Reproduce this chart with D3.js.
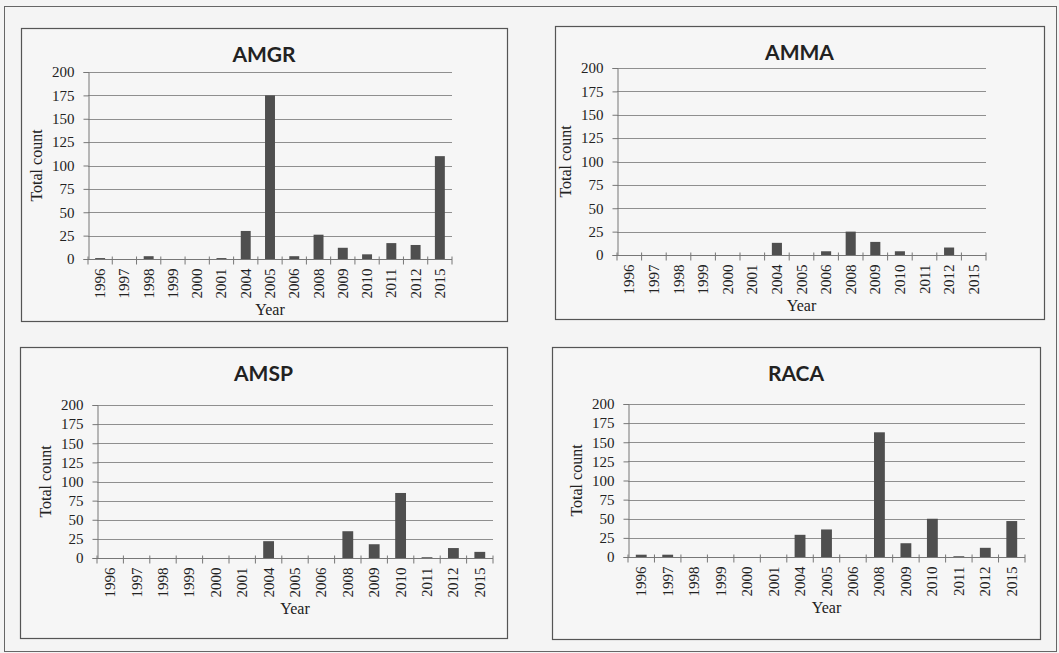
<!DOCTYPE html>
<html>
<head>
<meta charset="utf-8">
<script src="https://cdn.jsdelivr.net/npm/d3@7/dist/d3.min.js"></script>
<style>
  html, body { margin: 0; padding: 0; background: #f4f4f4; }
  svg { display: block; }
  .serif { font-family: "Liberation Serif", "DejaVu Serif", serif; }
</style>
</head>
<body>
<svg id="chart" width="1059" height="653"></svg>
<script>
// ---- data ----
const years = ["1996","1997","1998","1999","2000","2001","2004","2005","2006","2008","2009","2010","2011","2012","2015"];
const amgr = [1,0,3,0,0,1,30,175,3,26,12,5,17,15,110];
const amma = [0,0,0,0,0,0,13,0,4,25,14,4,0,8,0];
const amsp = [0,0,0,0,0,0,22,0,0,35,18,85,1,13,8];
const raca = [3,3,0,0,0,0,29,36,0,163,18,50,1,12,47];
const yTicks = [0,25,50,75,100,125,150,175,200];
const titles = ["AMGR","AMMA","AMSP","RACA"];
const seriesList = [amgr, amma, amsp, raca];

// ---- layout ----
const panels = [
  {box:[21,28,507,321],  plot:[88,72,452,259]},
  {box:[555,26,1044,319], plot:[617,68,986,255]},
  {box:[20,347,507,638], plot:[97,405,493,558]},
  {box:[552,347,1040,639], plot:[628,404,1025,557]}
];
const SERIF = '"Liberation Serif", "DejaVu Serif", serif';

const svg = d3.select("#chart");
svg.append("rect").attr("x",4.5).attr("y",6.5).attr("width",1052).attr("height",645)
  .attr("fill","#f4f4f4").attr("stroke","#666").attr("stroke-width",1);

panels.forEach((p, i) => {
  const data = seriesList[i];
  const [bx0,by0,bx1,by1] = p.box;
  const [px0,py0,px1,py1] = p.plot;
  const g = svg.append("g");
  g.append("rect").attr("x",bx0+0.5).attr("y",by0+0.5).attr("width",bx1-bx0).attr("height",by1-by0)
    .attr("fill","#f6f6f6").attr("stroke","#555").attr("stroke-width",1.2);

  const x = d3.scaleBand().domain(years).range([px0,px1]).paddingInner(0.59).paddingOuter(0.295);
  const xb = d3.scaleBand().domain(years).range([px0,px1]);
  const y = d3.scaleLinear().domain([0,200]).range([py1,py0]);

  g.append("g").selectAll("line").data(yTicks.filter(t=>t>0)).join("line")
    .attr("x1",px0).attr("x2",px1)
    .attr("y1",d=>Math.round(y(d))+0.5).attr("y2",d=>Math.round(y(d))+0.5)
    .attr("stroke","#8f8f8f").attr("stroke-width",1);

  const ya = g.append("g").attr("transform",`translate(${Math.round(px0)+0.5},0)`)
    .call(d3.axisLeft(y).tickValues(yTicks).tickSize(5).tickPadding(9));
  ya.attr("font-family", null).attr("font-size", null);
  ya.select(".domain").attr("stroke","#777");
  ya.selectAll(".tick line").attr("stroke","#777");
  ya.selectAll("text").style("font-family",SERIF).style("font-size","15px").attr("fill","#222");

  g.append("g").selectAll("rect").data(data).join("rect")
    .attr("x",(d,j)=>x(years[j]))
    .attr("width",x.bandwidth())
    .attr("y",d=>y(d))
    .attr("height",d=>y(0)-y(d))
    .attr("fill","#4f4f4f");

  const xa = g.append("g").attr("transform",`translate(0,${Math.round(py1)+0.5})`);
  xa.append("line").attr("x1",px0).attr("x2",px1).attr("stroke","#777");
  xa.selectAll("line.tk").data(d3.range(years.length+1)).join("line").attr("class","tk")
    .attr("x1",j=>px0+j*xb.step()).attr("x2",j=>px0+j*xb.step())
    .attr("y1",-3).attr("y2",5).attr("stroke","#777");
  xa.selectAll("text").data(years).join("text")
    .attr("transform",d=>`translate(${xb(d)+xb.bandwidth()/2+5},9) rotate(-90)`)
    .attr("text-anchor","end")
    .style("font-family",SERIF).style("font-size","15px").attr("fill","#222")
    .text(d=>d);

  g.append("text").attr("x",(bx0+bx1)/2).attr("y",by0+34)
    .attr("text-anchor","middle").style("font-family","Lato, 'Open Sans', sans-serif")
    .style("font-weight","bold").style("font-size","21px").attr("fill","#222")
    .text(titles[i]);

  g.append("text").attr("x",(px0+px1)/2).attr("y",py1+56)
    .attr("text-anchor","middle")
    .style("font-family",SERIF).style("font-size","16px").attr("fill","#222").text("Year");
  g.append("text")
    .attr("transform",`translate(${px0-46},${(py0+py1)/2}) rotate(-90)`)
    .attr("text-anchor","middle")
    .style("font-family",SERIF).style("font-size","16px").attr("fill","#222").text("Total count");
});
</script>
</body>
</html>
